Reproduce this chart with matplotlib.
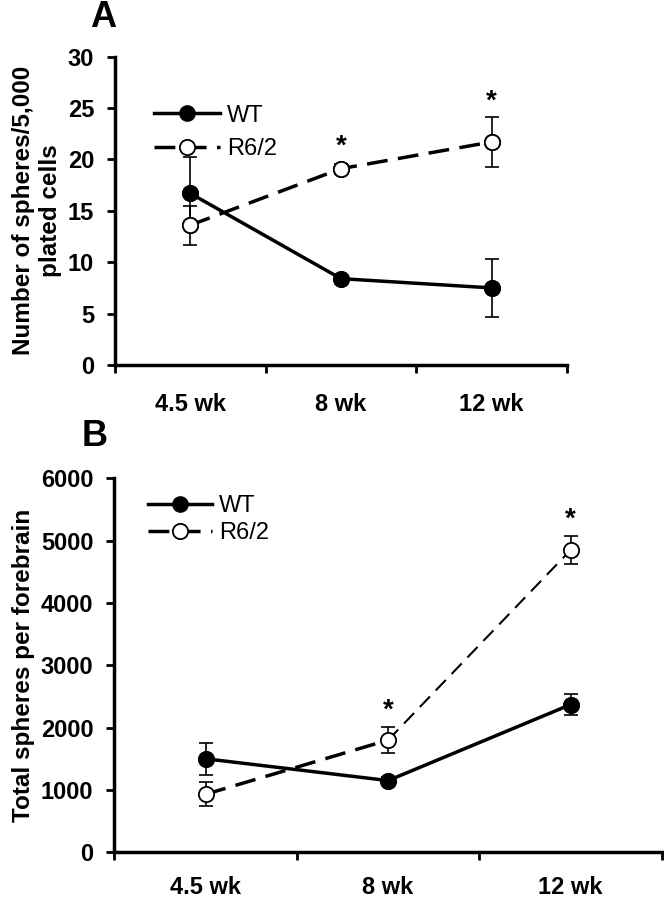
import numpy as np
import matplotlib.pyplot as plt

plt.rcParams['font.family'] = ['Liberation Sans', 'DejaVu Sans']

ages = ["4.5 wk", "8 wk", "12 wk"]

# panel A - spheres per 5,000 plated cells
wt_a = [16.7, 8.4, 7.5]
wt_a_err = [3.5, 0.3, 2.8]
r62_a = [13.6, 19.1, 21.7]
r62_a_err = [1.9, 0.5, 2.45]
star_a = [21.2, 25.6]   # heights of * at 8 wk and 12 wk

# panel B - total spheres per forebrain
wt_b = [1500, 1150, 2370]
wt_b_err = [260, 60, 170]
r62_b = [930, 1800, 4850]
r62_b_err = [190, 210, 220]
star_b = [2280, 5330]

fig = plt.figure(figsize=(6.64, 8.99), dpi=100)
axA = fig.add_axes([0.173, 0.594, 0.681, 0.343])
axB = fig.add_axes([0.172, 0.052, 0.825, 0.416])

x = np.arange(len(ages)) + 0.5


def style(ax, ymax, ystep, ylabel, pad, lpad):
    ax.set_xlim(0, 3)
    ax.set_ylim(0, ymax)
    ax.set_yticks(np.arange(0, ymax + 1, ystep))
    ax.set_xticks([0, 1, 2, 3])
    ax.set_xticklabels([])
    ax.set_xticks(x, minor=True)
    ax.set_xticklabels(ages, minor=True, fontsize=17, fontweight="bold")
    ax.tick_params(axis="x", which="major", direction="out", length=6, width=2)
    ax.tick_params(axis="x", which="minor", length=0, pad=pad)
    ax.tick_params(axis="y", direction="out", length=6, width=2, pad=9)
    for lab in ax.get_yticklabels():
        lab.set_fontsize(17)
        lab.set_fontweight("bold")
    for s in ["top", "right"]:
        ax.spines[s].set_visible(False)
    for s in ["left", "bottom"]:
        ax.spines[s].set_linewidth(2.5)
    ax.set_ylabel(ylabel, fontsize=17.5, fontweight="bold", labelpad=lpad, linespacing=1.25)


def errs(ax, y, e, face, z):
    ax.errorbar(x, y, yerr=e, fmt="none", ecolor="black", elinewidth=1.2,
                capsize=5, capthick=1.2, zorder=z)
    ax.plot(x, y, "o", ls="none", ms=11, mfc=face, mec="black", mew=1.3, zorder=z + 0.5)


# ---- A ----
axA.plot(x, wt_a, "-o", color="black", lw=2.5, ms=11, label="WT", zorder=3)
axA.plot(x, r62_a, "o", ls=(0, (6, 3)), color="black", lw=2.5, ms=11,
         mfc="white", mew=1.3, label="R6/2", zorder=4)
errs(axA, wt_a, wt_a_err, "black", 3)
errs(axA, r62_a, r62_a_err, "white", 4)
for xi, yi in zip(x[1:], star_a):
    axA.text(xi, yi, "*", ha="center", va="center", fontsize=20, fontweight="bold")
style(axA, 30, 5, "Number of spheres/5,000\nplated cells", 20, 4)
axA.legend(loc="upper left", bbox_to_anchor=(0.065, 0.875), frameon=False, fontsize=17,
           handlelength=2.8, handletextpad=0.3, labelspacing=0.5, borderaxespad=0)
fig.text(0.135, 0.981, "A", fontsize=26, fontweight="bold", ha="left", va="center")

# ---- B ----
axB.plot(x, wt_b, "-o", color="black", lw=2.5, ms=11, label="WT", zorder=3)
axB.plot(x[:2], r62_b[:2], ls=(0, (6, 3)), color="black", lw=2.5, zorder=4)
axB.plot(x[1:], r62_b[1:], ls=(0, (7, 4)), color="black", lw=1.5, zorder=4)
axB.plot([], [], "o", ls=(0, (6, 3)), color="black", lw=2.5, ms=11, mfc="white", mew=1.3, label="R6/2")
errs(axB, wt_b, wt_b_err, "black", 3)
errs(axB, r62_b, r62_b_err, "white", 4)
for xi, yi in zip(x[1:], star_b):
    axB.text(xi, yi, "*", ha="center", va="center", fontsize=20, fontweight="bold")
style(axB, 6000, 1000, "Total spheres per forebrain", 17, 4)
axB.legend(loc="upper left", bbox_to_anchor=(0.045, 0.98), frameon=False, fontsize=17,
           handlelength=2.7, handletextpad=0.3, labelspacing=0.2, borderaxespad=0)
fig.text(0.123, 0.514, "B", fontsize=26, fontweight="bold", ha="left", va="center")

fig.savefig("out.png", dpi=100)
